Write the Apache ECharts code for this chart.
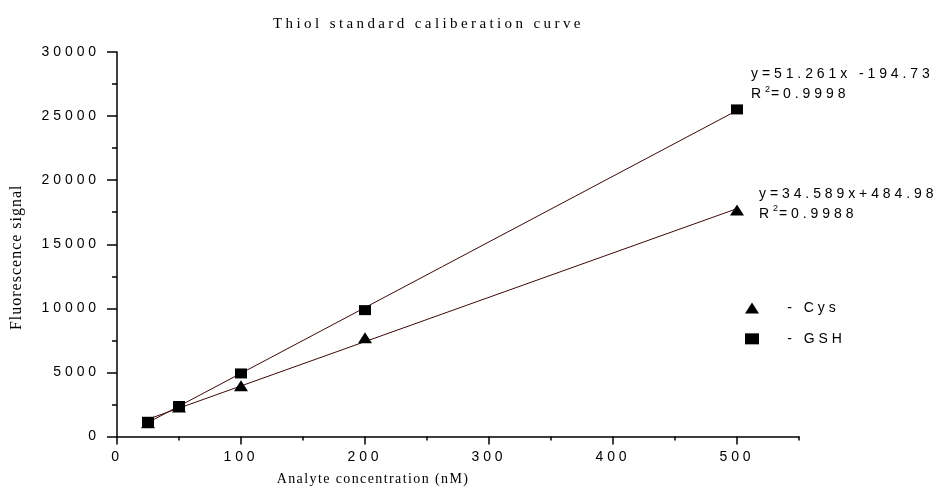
<!DOCTYPE html>
<html>
<head>
<meta charset="utf-8">
<script src="https://cdn.jsdelivr.net/npm/echarts@6/dist/echarts.min.js"></script>
<style>html,body{margin:0;padding:0;background:#fff}#c{width:937px;height:499px}</style>
</head>
<body>
<div id="c"></div>
<script>
// ---- data ----
const concentrations = [25, 50, 100, 200, 500];
const cysValues = [1080, 2300, 3950, 7700, 17680];
const gshValues = [1150, 2380, 4920, 9860, 25520];
const cysFit = { slope: 34.589, intercept: 484.98, r2: '0.9988', text: 'y=34.589x+484.98' };
const gshFit = { slope: 51.261, intercept: -194.73, r2: '0.9998', text: 'y=51.261x -194.73' };
const xMajorTicks = [0, 100, 200, 300, 400, 500];
const xMinorTicks = [50, 150, 250, 350, 450, 550];
const yTickInterval = 5000;

// ---- letter spacing per font (the original uses widely spaced text) ----
(function () {
  const P = CanvasRenderingContext2D.prototype;
  function spacing(font) {
    const m = /(\d+(?:\.\d+)?)px/.exec(font || '');
    const size = m ? parseFloat(m[1]) : 12;
    const serif = /Serif/.test(font);
    if (serif) {
      if (size === 15) return 3.4;   // title
      if (size === 14) return 1.4;   // x axis name
      if (size === 16) return 1.0;   // y axis name
      return 0;
    }
    if (size === 14) return 3.9;     // ticks, equations, legend
    if (size === 9) return 1;        // superscript
    return 0;
  }
  ['fillText', 'strokeText', 'measureText'].forEach(fn => {
    const orig = P[fn];
    P[fn] = function () {
      try { this.letterSpacing = spacing(this.font) + 'px'; } catch (e) {}
      return orig.apply(this, arguments);
    };
  });
})();

const SANS = '"Liberation Sans", Arial, sans-serif';
const SERIF = '"Liberation Serif", "Times New Roman", serif';
const lineColor = '#3b0a0a';

function eqLabel(fit, pos) {
  return {
    show: true,
    position: pos,
    align: 'left',
    verticalAlign: 'top',
    formatter: fit.text + '\n{r|R}{s|2}{r|=' + fit.r2 + '}',
    fontFamily: SANS, fontSize: 14, color: '#000', lineHeight: 20,
    rich: {
      r: { fontFamily: SANS, fontSize: 14, color: '#000', lineHeight: 20 },
      s: { fontFamily: SANS, fontSize: 9, color: '#000', lineHeight: 12, verticalAlign: 'top' }
    }
  };
}

function scatterData(values, fit, pos) {
  return concentrations.map((x, i) => {
    const item = { value: [x, values[i]] };
    if (i === concentrations.length - 1) item.label = eqLabel(fit, pos);
    return item;
  });
}

function fitLine(fit) {
  const x0 = concentrations[0], x1 = concentrations[concentrations.length - 1];
  return [[x0, fit.slope * x0 + fit.intercept], [x1, fit.slope * x1 + fit.intercept]];
}

const chart = echarts.init(document.getElementById('c'), null, { renderer: 'canvas' });
chart.setOption({
  animation: false,
  backgroundColor: '#fff',
  title: {
    text: 'Thiol standard caliberation curve',
    left: 273, top: 15, padding: 0,
    textStyle: { fontFamily: SERIF, fontSize: 15, fontWeight: 'normal', color: '#000' }
  },
  grid: { left: 116, right: 138, top: 52, bottom: 62.5 },
  legend: {
    orient: 'vertical', left: 745, top: 299, padding: 0,
    itemWidth: 14, itemHeight: 11, itemGap: 13,
    data: [{ name: 'Cys', icon: 'triangle' }, { name: 'GSH', icon: 'rect' }],
    formatter: n => '   - ' + n,
    itemStyle: { opacity: 1, color: '#000' },
    textStyle: { fontFamily: SANS, fontSize: 14, color: '#000' }
  },
  xAxis: [{
    type: 'value', min: 0, max: 550, position: 'bottom',
    name: 'Analyte concentration (nM)', nameLocation: 'middle', nameGap: 30,
    nameTextStyle: { fontFamily: SERIF, fontSize: 14, color: '#000', padding: [0, 170, 0, 0] },
    axisLine: { show: true, lineStyle: { color: '#000', width: 1.5 } },
    axisTick: { show: true, length: 8, customValues: xMajorTicks, lineStyle: { color: '#000', width: 1.5 } },
    axisLabel: { customValues: xMajorTicks, margin: 12, fontFamily: SANS, fontSize: 14, color: '#000' },
    splitLine: { show: false }
  }, {
    type: 'value', min: 0, max: 550, position: 'bottom', offset: 0,
    axisLine: { show: false },
    axisTick: { show: true, length: 4, customValues: xMinorTicks, lineStyle: { color: '#000', width: 1.5 } },
    axisLabel: { show: false },
    splitLine: { show: false }
  }],
  yAxis: {
    type: 'value', min: 0, max: 30000, interval: yTickInterval,
    name: 'Fluorescence signal', nameLocation: 'middle', nameGap: 92,
    nameTextStyle: { fontFamily: SERIF, fontSize: 16, color: '#000', padding: [0, 26, 0, 0] },
    axisLine: { show: true, lineStyle: { color: '#000', width: 1.5 } },
    axisTick: { show: true, length: 10, lineStyle: { color: '#000', width: 1.5 } },
    minorTick: { show: true, splitNumber: 2, length: 5, lineStyle: { color: '#000', width: 1.5 } },
    axisLabel: { margin: 17, fontFamily: SANS, fontSize: 14, color: '#000', formatter: v => String(v) },
    splitLine: { show: false }
  },
  series: [
    { name: 'Cys fit', type: 'line', data: fitLine(cysFit), showSymbol: false, symbol: 'none',
      lineStyle: { color: lineColor, width: 1 }, z: 2, silent: true },
    { name: 'GSH fit', type: 'line', data: fitLine(gshFit), showSymbol: false, symbol: 'none',
      lineStyle: { color: lineColor, width: 1 }, z: 2, silent: true },
    { name: 'Cys', type: 'scatter', symbol: 'triangle', symbolSize: [14, 11],
      itemStyle: { color: '#000', opacity: 1 }, z: 3, data: scatterData(cysValues, cysFit, [29, -20.5]) },
    { name: 'GSH', type: 'scatter', symbol: 'rect', symbolSize: [12, 10],
      itemStyle: { color: '#000', opacity: 1 }, z: 3, data: scatterData(gshValues, gshFit, [20, -40]) }
  ]
});
</script>
</body>
</html>
